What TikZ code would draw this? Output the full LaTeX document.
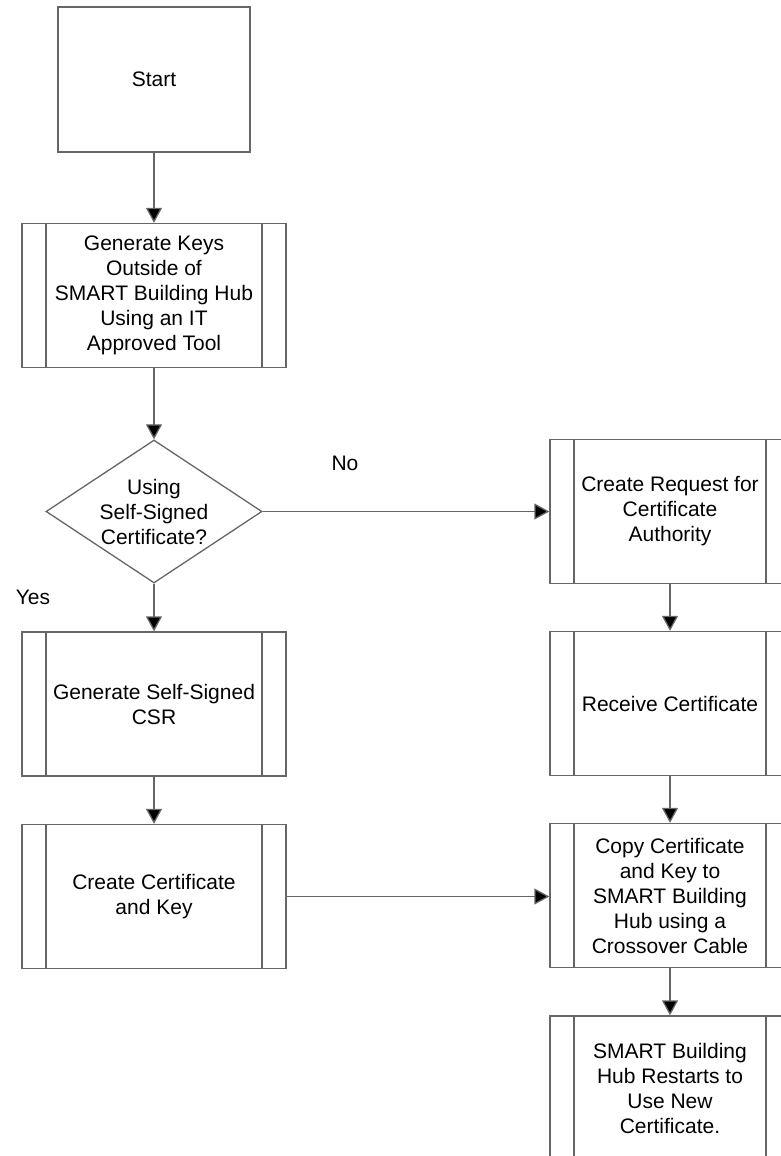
\documentclass[tikz,border=0pt]{standalone}
\usepackage{fontspec}
\setmainfont{Liberation Sans}
\usetikzlibrary{shapes.geometric, arrows.meta, positioning}

\begin{document}
\begin{tikzpicture}[
    x=1pt, y=-1pt,
    font=\fontsize{21}{25}\selectfont,
    line width=1.3pt,
    startbox/.style={rectangle, draw=black!60, align=center, minimum width=192pt, minimum height=145pt, inner sep=0pt},
    process/.style={rectangle, draw=black!60, align=center, minimum height=144pt, inner sep=0pt,
        path picture={
            \draw[black!60] ([xshift=24pt]path picture bounding box.north west) -- ([xshift=24pt]path picture bounding box.south west);
            \draw[black!60] ([xshift=-24pt]path picture bounding box.north east) -- ([xshift=-24pt]path picture bounding box.south east);
        }},
    decision/.style={diamond, draw=black!60, align=center, aspect=1.5, inner sep=0pt, minimum width=216pt, minimum height=143pt},
    arrow/.style={draw=black!60, -{Triangle[length=15pt, width=16pt, fill=black]}}
]
\useasboundingbox (0,0) rectangle (781,1156);
\clip (0,0) rectangle (781,1156);

% Left column
\node[startbox] (start) at (154, 79.5) {Start};
\node[process, minimum width=264pt] (genkeys) at (154, 295.5) {Generate Keys\\Outside of\\SMART Building Hub\\Using an IT\\Approved Tool};
\node[decision] (selfsigned) at (154, 511.5) {Using\\Self-Signed\\Certificate?};
\node[process, minimum width=264pt] (gencsr) at (154, 704) {Generate Self-Signed\\CSR};
\node[process, minimum width=264pt] (createcert) at (154, 896.5) {Create Certificate\\and Key};

% Right column
\node[process, minimum width=240pt] (request) at (670, 511.5) {Create Request for\\Certificate\\Authority};
\node[process, minimum width=240pt] (receive) at (670, 703.5) {Receive Certificate};
\node[process, minimum width=240pt] (copy) at (670, 895.5) {Copy Certificate\\and Key to\\SMART Building\\Hub using a\\Crossover Cable};
\node[process, minimum width=240pt] (restart) at (670, 1088) {SMART Building\\Hub Restarts to\\Use New\\Certificate.};

% Labels
\node (nolabel) at (345, 463) {No};
\node (yeslabel) at (33, 597) {Yes};

% Flow arrows
\draw[arrow] (start) -- (genkeys);
\draw[arrow] (genkeys) -- (selfsigned);
\draw[arrow] (selfsigned) -- (gencsr);
\draw[arrow] (selfsigned) -- (request);
\draw[arrow] (gencsr) -- (createcert);
\draw[arrow] (request) -- (receive);
\draw[arrow] (receive) -- (copy);
\draw[arrow] (createcert.east) -- (createcert.east -| copy.west);
\draw[arrow] (copy) -- (restart);

\end{tikzpicture}
\end{document}
